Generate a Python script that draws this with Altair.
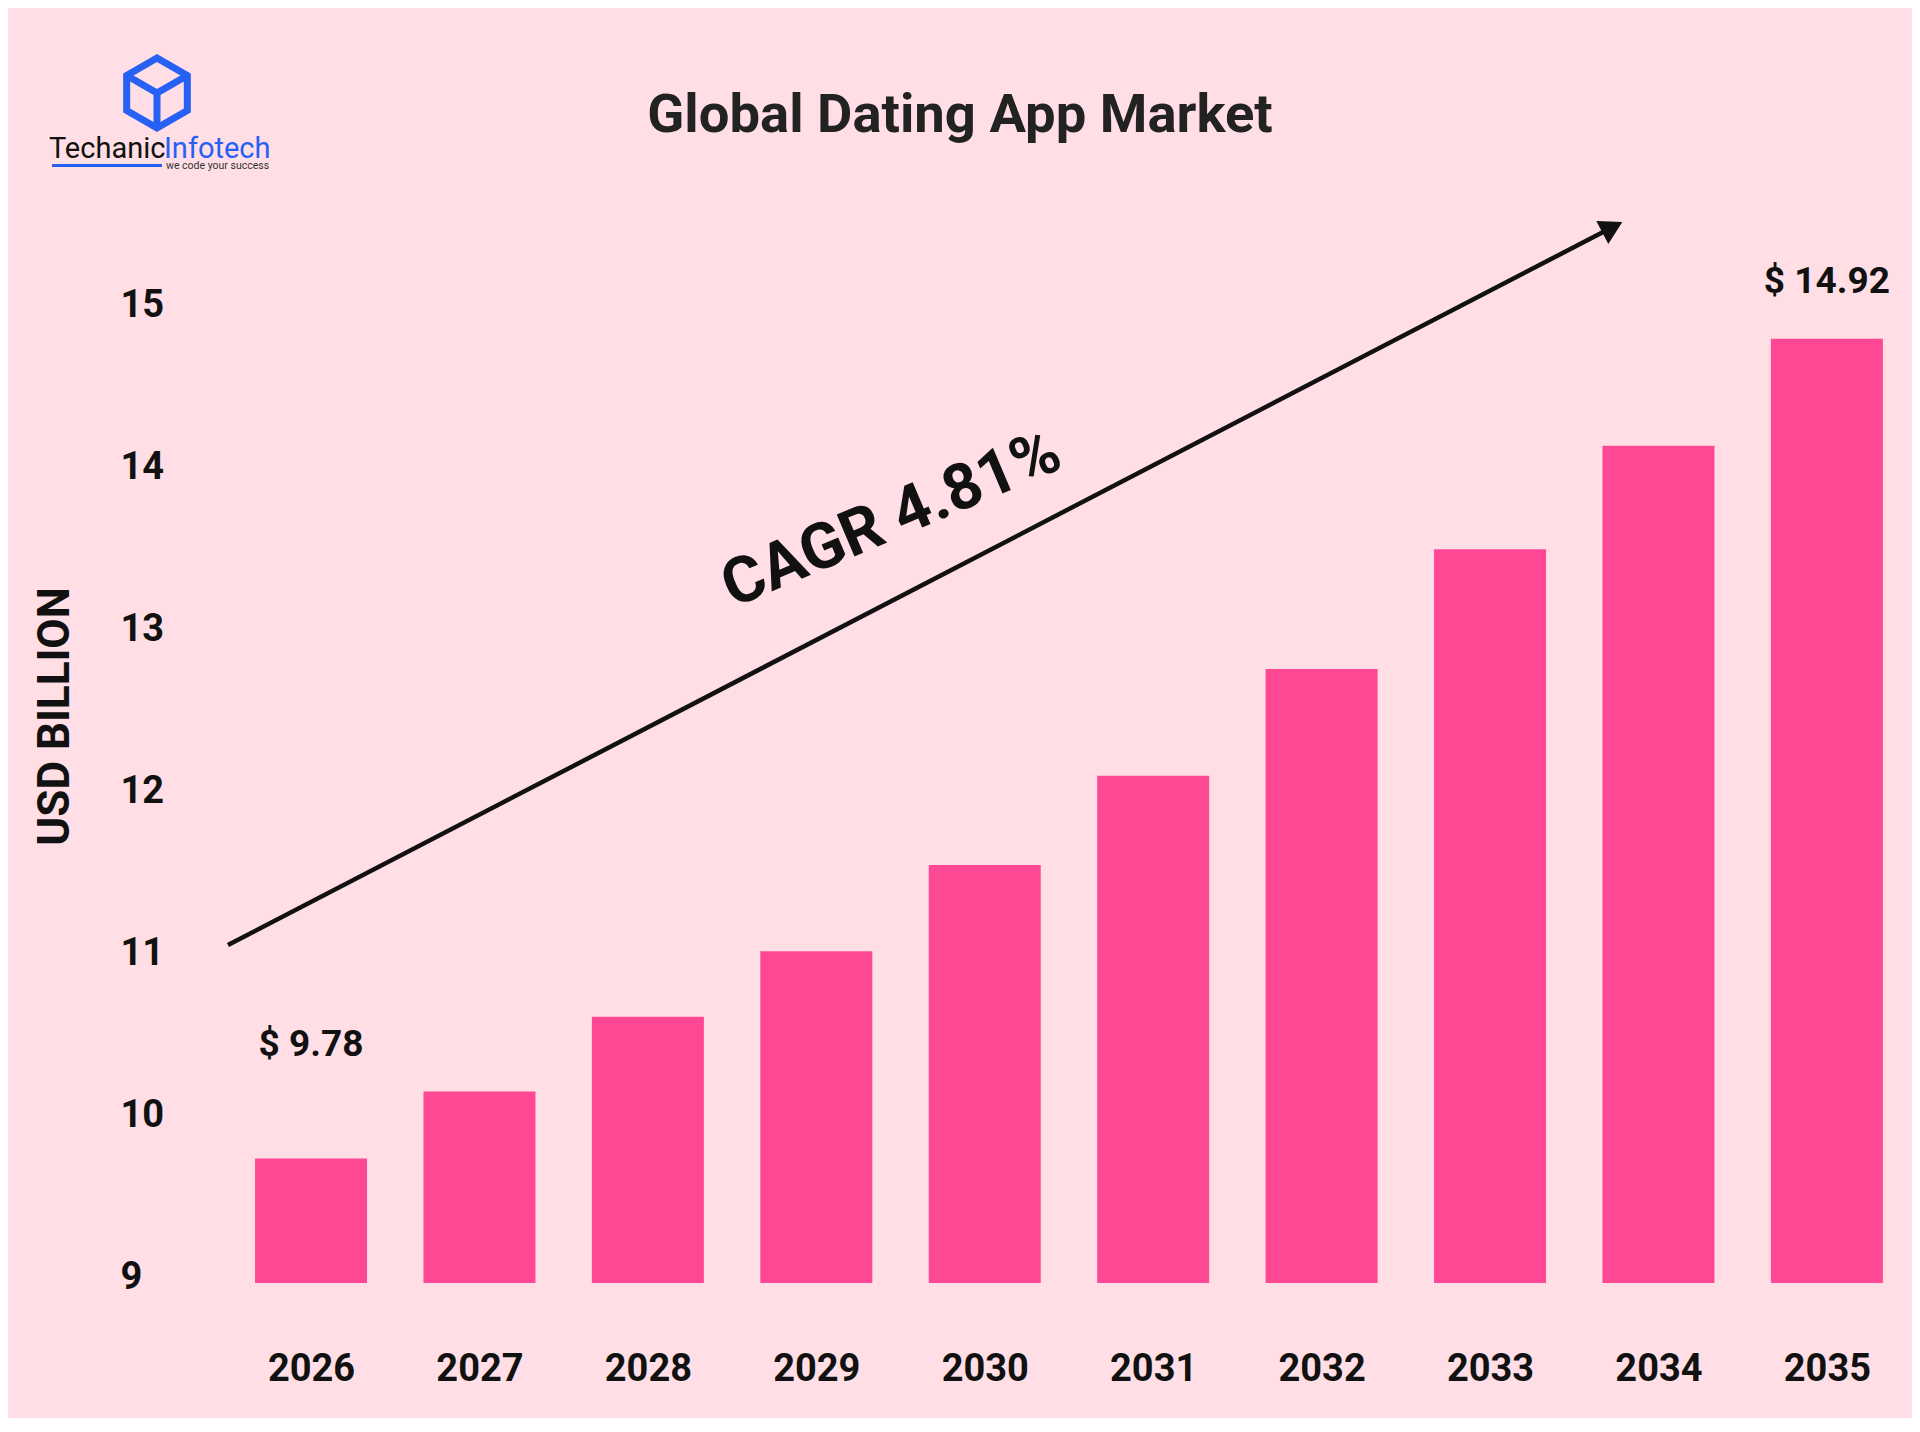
import altair as alt
import pandas as pd

# ---------------- data ----------------
YEARS = [2026, 2027, 2028, 2029, 2030, 2031, 2032, 2033, 2034, 2035]
VALUES = [9.78, 10.20, 10.67, 11.08, 11.62, 12.18, 12.85, 13.60, 14.25, 14.92]
Y_TICKS = [9, 10, 11, 12, 13, 14, 15]
END_LABELS = ["$ 9.78", "$ 14.92"]
TITLE = "Global Dating App Market"
Y_TITLE = "USD BILLION"
CAGR_TEXT = "CAGR 4.81%"

# annotation anchors in data units (year, USD billion)
TITLE_AT = [2029.853, 16.218]
ARROW_X = [2025.507, 2033.726]
ARROW_Y = [11.119, 15.619]
CAGR_AT = [2029.447, 13.784]
LOGO_ICON_AT = [2025.0855, 16.461]
LOGO_WORD1_AT = [2024.444, 16.053]
LOGO_WORD2_AT = [2025.127, 16.053]
LOGO_TAG_AT = [2025.139, 15.985]
LOGO_LINE_X = [2024.462, 2025.115]
LOGO_LINE_Y = 16.006

# ---------------- styles ----------------
BG = "#FFDFE5"
PINK = "#FF4893"
INK = "#111111"
BLUE = "#2660F5"
FONT = "Roboto"

XS = alt.Scale(domain=[2025.25, 2035.45], nice=False, zero=False, padding=0)
YS = alt.Scale(domain=[9, 16], nice=False, zero=False, padding=0)
YS_AXIS = alt.Scale(domain=[8.963, 15.855], nice=False, zero=False, padding=0)

XAXIS = alt.Axis(
    orient="bottom",
    values=YEARS,
    format="d",
    title=None,
    ticks=False,
    tickSize=0,
    domain=False,
    grid=False,
    labelFontSize=38,
    labelFontWeight="bold",
    labelFont=FONT,
    labelColor=INK,
    labelPadding=67.5,
    labelFlush=False,
    labelOverlap=False,
)

df = pd.DataFrame({"year": YEARS, "value": VALUES})


def pt(xy, extra=None):
    d = {"x": [xy[0]], "y": [xy[1]]}
    if extra:
        d.update(extra)
    return pd.DataFrame(d)


def xy_enc():
    return dict(
        x=alt.X("x:Q", scale=XS, axis=XAXIS),
        y=alt.Y("y:Q", scale=YS, axis=None),
    )


bars = alt.Chart(df).mark_bar(color=PINK, size=112).encode(
    x=alt.X("year:Q", scale=XS, axis=XAXIS),
    y=alt.Y("value:Q", scale=YS, axis=None),
    y2=alt.datum(9),
)

first = df.iloc[[0]].assign(label=END_LABELS[0])
last = df.iloc[[-1]].assign(label=END_LABELS[1])


def end_label(frame, dy):
    return alt.Chart(frame).mark_text(
        fontSize=37, fontWeight="bold", font=FONT, color=INK,
        align="center", baseline="middle", dy=dy,
    ).encode(
        x=alt.X("year:Q", scale=XS, axis=XAXIS),
        y=alt.Y("value:Q", scale=YS, axis=None),
        text="label:N",
    )


lab_first = end_label(first, -114)
lab_last = end_label(last, -57)

arrow_df = pd.DataFrame({"x": [ARROW_X[0]], "y": [ARROW_Y[0]],
                         "x2": [ARROW_X[1]], "y2": [ARROW_Y[1]]})
arrow_line = alt.Chart(arrow_df).mark_rule(color=INK, strokeWidth=4.5).encode(
    x=alt.X("x:Q", scale=XS, axis=XAXIS),
    y=alt.Y("y:Q", scale=YS, axis=None),
    x2="x2:Q",
    y2="y2:Q",
)
arrow_head = alt.Chart(pt([ARROW_X[1], ARROW_Y[1]])).mark_point(
    shape="triangle-right", filled=True, size=676, angle=332.6,
    color=INK, opacity=1,
).encode(**xy_enc())

cagr = alt.Chart(pt(CAGR_AT, {"t": [CAGR_TEXT]})).mark_text(
    fontSize=64, fontWeight="bold", font=FONT, color=INK,
    align="center", baseline="middle", angle=337,
).encode(text="t:N", **xy_enc())

title = alt.Chart(pt(TITLE_AT, {"t": [TITLE]})).mark_text(
    fontSize=54.4, fontWeight="bold", font=FONT, color="#222222",
    align="center", baseline="alphabetic",
).encode(text="t:N", **xy_enc())

# y axis labels (drawn on their own scale, as in the source graphic)
axis_layer = alt.Chart(pd.DataFrame({"tick": Y_TICKS})).mark_point(opacity=0).encode(
    y=alt.Y(
        "tick:Q",
        scale=YS_AXIS,
        axis=alt.Axis(
            orient="left",
            values=Y_TICKS,
            title=Y_TITLE,
            titleFont=FONT,
            titleFontSize=44,
            titleFontWeight="bold",
            titleColor=INK,
            titleAngle=270,
            titleAlign="center",
            titleBaseline="middle",
            titleX=-129.7,
            titleY=549.5,
            ticks=False,
            tickSize=0,
            domain=False,
            grid=False,
            labelAlign="left",
            labelPadding=64.7,
            labelFontSize=38,
            labelFontWeight="bold",
            labelFont=FONT,
            labelColor=INK,
            labelFlush=False,
            labelOverlap=False,
        ),
    )
)

# logo
ICON_PATH = ("M0,-1 L0.866,-0.5 L0.866,0.5 L0,1 L-0.866,0.5 L-0.866,-0.5 Z "
             "M-0.866,-0.5 L0,0 L0.866,-0.5 M0,0 L0,1")
logo_icon = alt.Chart(pt(LOGO_ICON_AT)).mark_point(
    shape=ICON_PATH, filled=False, size=4900, color=BLUE,
    strokeWidth=7, opacity=1, strokeJoin="miter",
).encode(**xy_enc())
logo_w1 = alt.Chart(pt(LOGO_WORD1_AT, {"t": ["Techanic"]})).mark_text(
    fontSize=29, font=FONT, color=INK, align="left", baseline="alphabetic",
).encode(text="t:N", **xy_enc())
logo_w2 = alt.Chart(pt(LOGO_WORD2_AT, {"t": ["Infotech"]})).mark_text(
    fontSize=29, font=FONT, color=BLUE, align="left", baseline="alphabetic",
).encode(text="t:N", **xy_enc())
logo_tag = alt.Chart(pt(LOGO_TAG_AT, {"t": ["we code your success"]})).mark_text(
    fontSize=10.5, font=FONT, color="#333333", align="left", baseline="alphabetic",
).encode(text="t:N", **xy_enc())
logo_line = alt.Chart(pd.DataFrame({"x": [LOGO_LINE_X[0]], "x2": [LOGO_LINE_X[1]],
                                    "y": [LOGO_LINE_Y]})).mark_rule(
    color=BLUE, strokeWidth=3,
).encode(x=alt.X("x:Q", scale=XS, axis=XAXIS), x2="x2:Q",
         y=alt.Y("y:Q", scale=YS, axis=None))

chart = alt.layer(
    bars, lab_first, lab_last, arrow_line, arrow_head, cagr, title, axis_layer,
    logo_icon, logo_w1, logo_w2, logo_tag, logo_line,
).resolve_scale(y="independent").properties(
    width=1718,
    height=1116.5,
    padding={"left": 176.7, "top": 158.5, "right": 9.3, "bottom": 135},
    autosize=alt.AutoSizeParams(type="none"),
    background=BG,
).configure(font=FONT, view=alt.ViewConfig(stroke=None))

chart.save("out.html", embed_options={"renderer": "svg", "actions": False})
